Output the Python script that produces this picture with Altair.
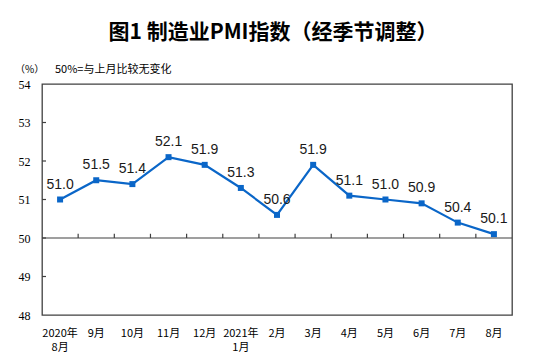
import altair as alt
import pandas as pd

months = ["2020年\n8月", "9月", "10月", "11月", "12月", "2021年\n1月", "2月",
          "3月", "4月", "5月", "6月", "7月", "8月"]
pmi = [51.0, 51.5, 51.4, 52.1, 51.9, 51.3, 50.6, 51.9, 51.1, 51.0, 50.9, 50.4, 50.1]
y_ticks = [49, 50, 51, 52, 53]
y_labels = [48, 49, 50, 51, 52, 53, 54]
title_text = "图1 制造业PMI指数（经季节调整）"
unit_text = "（%）"
note_text = "50%=与上月比较无变化"

df = pd.DataFrame({"month": months, "pmi": pmi})
ticks_df = pd.DataFrame({"month": months[1:], "pmi": [50] * 12, "top": [50.11] * 12})
yt_df = pd.DataFrame({"pmi": y_ticks})
fifty_df = pd.DataFrame({"pmi": [50]})

LINE = "#0A66C8"
AXC = "#404040"
CJK = "Noto Sans CJK SC"

xscale = alt.Scale(type="band", paddingInner=0, paddingOuter=0)
yscale = alt.Scale(domain=[48, 54], nice=False, zero=False)

xaxis = alt.Axis(title=None, labelAngle=0, ticks=False, domain=False,
                 labelFont=CJK, labelFontSize=11, labelColor="#000",
                 labelPadding=12, labelLineHeight=14, labelOverlap=False,
                 labelExpr="split(datum.label, '\\n')")
yaxis = alt.Axis(title=None, values=y_labels, ticks=False, domain=False,
                 grid=False, labelFont="Liberation Serif", labelFontSize=12,
                 labelColor="#000", labelPadding=12, labelOverlap=False,
                 labelFlush=False)


def X(**kw):
    return alt.X("month:N", sort=months, scale=xscale, axis=xaxis, **kw)


def Y():
    return alt.Y("pmi:Q", scale=yscale, axis=yaxis)


base = alt.Chart(df)

line = base.mark_line(color=LINE, strokeWidth=2.2).encode(x=X(), y=Y())
pts = base.mark_point(shape="square", filled=True, size=36, color=LINE, opacity=1).encode(
    x=X(), y=Y())
labels = base.mark_text(font="Liberation Sans", fontSize=14, color="#1a1a1a",
                        baseline="alphabetic", dy=-11).encode(
    x=X(), y=Y(), text=alt.Text("pmi:Q", format=".1f"))

fifty = alt.Chart(fifty_df).mark_rule(color=AXC, strokeWidth=1.2).encode(
    y=Y(), x=alt.value(0), x2=alt.value(470))

xticks = alt.Chart(ticks_df).mark_rule(color=AXC, strokeWidth=1.2).encode(
    x=X(bandPosition=0), y=Y(), y2="top:Q")

yticks = alt.Chart(yt_df).mark_rule(color=AXC, strokeWidth=1.2).encode(
    y=Y(), x=alt.value(0), x2=alt.value(4))

title = alt.Chart(pd.DataFrame({"t": [title_text]})).mark_text(
    font=CJK, fontSize=21, fontWeight="bold", color="#000", align="center",
    baseline="middle").encode(text="t:N", x=alt.value(231), y=alt.value(-51))
unit = alt.Chart(pd.DataFrame({"t": [unit_text]})).mark_text(
    font=CJK, fontSize=10, color="#000", align="left", baseline="middle").encode(
    text="t:N", x=alt.value(-27), y=alt.value(-14))
note = alt.Chart(pd.DataFrame({"t": [note_text]})).mark_text(
    font=CJK, fontSize=11, color="#000", align="left", baseline="middle").encode(
    text="t:N", x=alt.value(13), y=alt.value(-14))

chart = alt.layer(line, pts, labels, fifty, xticks, yticks, title, unit, note).properties(
    width=470, height=231,
    autosize=alt.AutoSizeParams(type="none"),
    padding={"left": 34, "top": 76, "right": 20, "bottom": 41},
    background="white",
).configure_view(stroke=AXC, strokeWidth=1.3)

chart.save("out.html", embed_options={"renderer": "svg", "actions": False})
